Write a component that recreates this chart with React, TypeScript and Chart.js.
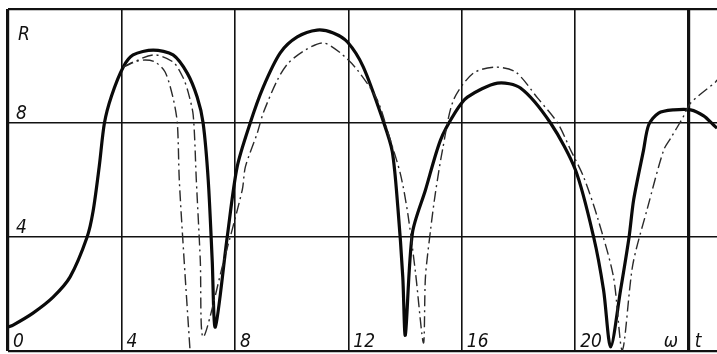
import React, { useEffect, useRef } from "react";
import { Chart, registerables } from "chart.js";

Chart.register(...registerables);

// ω axis grid values and labels
const omegaTicks = [0, 4, 8, 12, 16, 20, 24];
const omegaLabels = ["0", "4", "8", "12", "16", "20"];
// R axis grid values and labels
const rTicks = [0, 4, 8, 12];
const rLabels = ["", "4", "8", "R"];
const xSymbol = "ω";
const tSymbol = "t";

// Thick solid curve
const thickOmega = [0, 0.18, 0.88, 1.59, 2.19, 2.79, 3.0, 3.22, 3.4, 3.65, 4.06, 4.41, 5.12, 5.82, 6.32, 6.67, 6.88, 7.06, 7.2, 7.31,
  7.73, 8.08, 8.54, 9.0, 9.6, 10.2, 10.9, 11.47, 11.97, 12.53, 13.24, 13.55, 13.75, 13.92, 14.01,
  14.26, 14.72, 15.25, 15.78, 16.2, 17.26, 18.07, 19.13, 20.01, 20.65, 21.0, 21.25,
  21.6, 21.9, 22.06, 22.41, 22.59, 22.94, 23.47, 24.07, 24.53, 24.88, 25.0];
const thickR = [0.84, 0.91, 1.33, 1.89, 2.6, 4.0, 4.9, 6.5, 8.0, 8.95, 9.96, 10.39, 10.56, 10.39, 9.75, 8.91, 8.0, 6.0, 3.19, 0.84,
  4.0, 6.46, 8.0, 9.26, 10.46, 11.02, 11.26, 11.16, 10.84, 9.96, 8.04, 7.0, 5.0, 2.6, 0.56,
  4.14, 5.65, 7.4, 8.39, 8.91, 9.4, 9.23, 8.0, 6.35, 4.0, 2.14, 0.14,
  2.14, 4.0, 5.3, 7.05, 7.93, 8.35, 8.46, 8.46, 8.25, 7.93, 7.82];

// Dash-dot curve running through all lobes
const dashOmega = [4.06, 5.12, 5.82, 6.18, 6.35, 6.53, 6.64, 6.78, 6.88,
  7.59, 8.26, 8.37, 8.79, 9.0, 9.5, 9.88, 10.48, 11.12, 11.72, 12.32, 13.02, 13.45, 13.84, 14.1, 14.37, 14.65,
  14.72, 14.9, 15.07, 15.32, 15.71, 16.41, 17.19, 17.9, 18.67, 19.38, 19.84, 20.3, 20.79, 21.35, 21.66,
  22.03, 22.55, 23.12, 23.37, 23.79, 24.07, 24.95, 25.0];
const dashR = [9.96, 10.39, 10.14, 9.58, 9.09, 8.28, 6.0, 3.19, 0.49,
  3.09, 5.65, 6.46, 7.65, 8.35, 9.51, 10.1, 10.56, 10.81, 10.46, 9.86, 8.81, 7.5, 6.2, 4.8, 2.74, 0.28,
  2.6, 4.25, 5.54, 7.05, 8.81, 9.75, 9.96, 9.79, 8.88, 8.0, 7.05, 6.1, 4.67, 2.6, 0.03,
  3.02, 5.02, 7.05, 7.47, 8.18, 8.7, 9.44, 9.51];

// Inner dash-dot curve of the first lobe
const innerOmega = [4.06, 4.41, 4.84, 5.19, 5.54, 5.82, 5.97, 6.04, 6.21, 6.42];
const innerR = [9.96, 10.14, 10.21, 10.14, 9.79, 8.88, 8.0, 6.0, 3.19, 0.0];

const toPts = (xs: number[], ys: number[]) => xs.map((x, i) => ({ x, y: ys[i] }));

const labelPlugin = {
  id: "insideLabels",
  afterDraw(chart: any) {
    const { ctx, scales } = chart;
    const xs = scales.x;
    const ys = scales.y;
    ctx.save();
    ctx.fillStyle = "#111";
    ctx.font = 'italic 19px "DejaVu Sans Condensed", "DejaVu Sans", sans-serif';
    ctx.textAlign = "left";
    ctx.textBaseline = "alphabetic";
    const base = ys.getPixelForValue(0) - 4;
    omegaLabels.forEach((lab, i) => {
      ctx.fillText(lab, xs.getPixelForValue(omegaTicks[i]) + 5, base);
    });
    ctx.fillText(xSymbol, xs.getPixelForValue(24) - 25, base);
    ctx.fillText(tSymbol, xs.getPixelForValue(24) + 6, base);
    rTicks.forEach((v, i) => {
      const lab = rLabels[i];
      if (!lab) return;
      const px = xs.getPixelForValue(0) + 8;
      if (v === 12) {
        ctx.fillText(lab, px + 2, ys.getPixelForValue(v) + 31);
      } else {
        ctx.fillText(lab, px, ys.getPixelForValue(v) - 4);
      }
    });
    ctx.restore();
  },
};

const dashStyle = {
  borderColor: "#2a2a2a",
  borderWidth: 1.4,
  borderDash: [11, 4, 2, 4],
  pointRadius: 0,
  tension: 0.28,
  fill: false,
  clip: { left: 0, top: 0, right: 0, bottom: 3 },
};

export default function App() {
  const ref = useRef<HTMLCanvasElement | null>(null);
  useEffect(() => {
    if (!ref.current) return;
    const chart = new Chart(ref.current, {
      type: "line",
      data: {
        datasets: [
          { data: toPts(innerOmega, innerR), ...dashStyle },
          { data: toPts(dashOmega, dashR), ...dashStyle },
          {
            data: toPts(thickOmega, thickR),
            borderColor: "#0a0a0a",
            borderWidth: 3.2,
            pointRadius: 0,
            tension: 0.28,
            fill: false,
            clip: { left: 0, top: 0, right: 0, bottom: 3 },
          },
        ],
      },
      options: {
        responsive: false,
        animation: false,
        events: [],
        layout: { padding: { left: 8, top: 9, right: 0, bottom: 3 } },
        plugins: { legend: { display: false }, tooltip: { enabled: false } },
        scales: {
          x: {
            type: "linear",
            min: 0,
            max: 25,
            afterBuildTicks: (s: any) => {
              s.ticks = omegaTicks.map((v) => ({ value: v }));
            },
            afterFit: (s: any) => {
              s.height = 0;
            },
            ticks: { display: false },
            border: { display: false },
            grid: {
              drawTicks: false,
              color: "#111",
              lineWidth: (c: any) => (c.tick && (c.tick.value === 0 || c.tick.value === 24) ? 3.2 : 1.6),
            },
          },
          y: {
            type: "linear",
            min: 0,
            max: 12,
            afterBuildTicks: (s: any) => {
              s.ticks = rTicks.map((v) => ({ value: v }));
            },
            afterFit: (s: any) => {
              s.width = 0;
            },
            ticks: { display: false },
            border: { display: false },
            grid: {
              drawTicks: false,
              color: "#111",
              lineWidth: (c: any) => (c.tick && (c.tick.value === 0 || c.tick.value === 12) ? 2.2 : 1.6),
            },
          },
        },
      },
      plugins: [labelPlugin],
    });
    return () => chart.destroy();
  }, []);
  return (
    <div style={{ position: "fixed", left: 0, top: 0, width: 717, height: 354, background: "#fff" }}>
      <canvas ref={ref} width={717} height={354} style={{ display: "block" }} />
    </div>
  );
}
